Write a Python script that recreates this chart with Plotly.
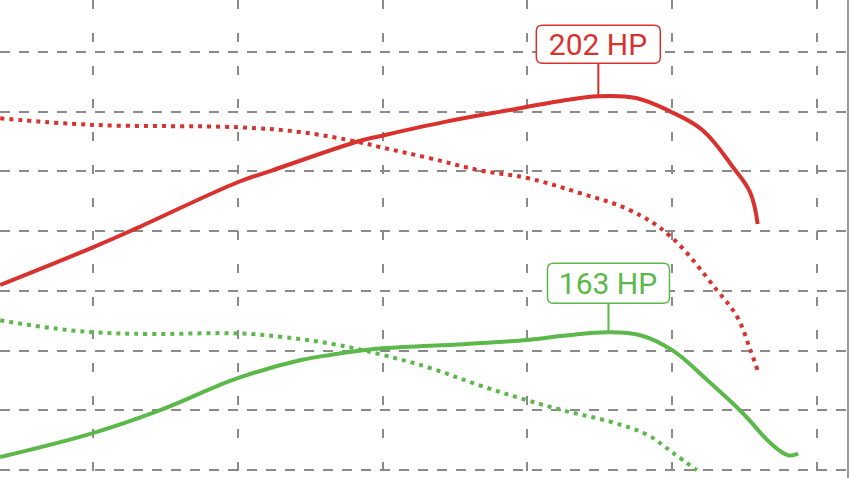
import plotly.graph_objects as go

# dyno curves (rpm / hp scale)
red_power_rpm = [1360, 2000, 2320, 3000, 3240, 3840, 3980, 4430, 4880, 5230, 5490, 5750, 5990, 6210, 6420, 6540, 6590]
red_power_hp = [171.0, 177.3, 180.7, 188.2, 190.2, 195.1, 195.9, 198.3, 200.3, 201.8, 202.6, 202.3, 200.0, 196.9, 190.7, 186.4, 181.2]

red_torque_rpm = [1360, 2000, 3000, 3430, 3840, 3980, 4330, 4670, 5000, 5360, 5710, 5985, 6310, 6450, 6540, 6590]
red_torque_val = [198.9, 197.8, 197.4, 196.6, 194.9, 194.1, 192.2, 190.2, 188.9, 186.4, 183.5, 179.2, 170.1, 165.6, 160.1, 156.7]

green_power_rpm = [1360, 2000, 2460, 3000, 3430, 3640, 4000, 4560, 5000, 5250, 5560, 5780, 6000, 6260, 6490, 6680, 6800, 6870]
green_power_hp = [142.2, 146.2, 150.0, 155.4, 158.4, 159.3, 160.4, 161.1, 161.8, 162.5, 163.1, 162.6, 160.1, 154.7, 149.5, 144.5, 142.5, 142.8]

green_torque_rpm = [1360, 1680, 2000, 2390, 3000, 3310, 3660, 4000, 4330, 4670, 5000, 5250, 5590, 5830, 6000, 6170]
green_torque_val = [165.1, 163.9, 163.1, 162.8, 162.9, 162.3, 161.1, 159.3, 157.1, 154.2, 151.7, 150.0, 148.0, 145.9, 143.0, 140.0]

peak_labels = ["202 HP", "163 HP"]
peak_rpm = [5490, 5560]
peak_hp = [202.6, 163.1]

RED = '#d8312e'
GREEN = '#5cb84b'
GRID = '#8a8a8a'

fig = go.Figure()

def add_curve(x, y, color, dotted=False):
    fig.add_trace(go.Scatter(
        x=x, y=y, mode='lines',
        line=dict(color=color, width=4, shape='spline', smoothing=1.1,
                  dash='4px,5px' if dotted else 'solid'),
        showlegend=False, hoverinfo='skip'
    ))

add_curve(red_torque_rpm, red_torque_val, RED, dotted=True)
add_curve(green_torque_rpm, green_torque_val, GREEN, dotted=True)
add_curve(red_power_rpm, red_power_hp, RED)
add_curve(green_power_rpm, green_power_hp, GREEN)

# peak labels: rounded box + stem
box_sizes = [(124, 38, 33), (122, 40, 29)]  # width, height, gap above point
for text, px, py, color, (bw, bh, gap) in zip(peak_labels, peak_rpm, peak_hp, [RED, GREEN], box_sizes):
    x0, x1 = -bw / 2, bw / 2
    y0, y1 = gap, gap + bh
    r = 6
    path = (f"M {x0 + r},{y0} L {x1 - r},{y0} Q {x1},{y0} {x1},{y0 + r} "
            f"L {x1},{y1 - r} Q {x1},{y1} {x1 - r},{y1} L {x0 + r},{y1} "
            f"Q {x0},{y1} {x0},{y1 - r} L {x0},{y0 + r} Q {x0},{y0} {x0 + r},{y0} Z")
    fig.add_shape(type='path', path=path, xsizemode='pixel', ysizemode='pixel',
                  xanchor=px, yanchor=py, xref='x', yref='y',
                  line=dict(color=color, width=1.5), fillcolor='white', layer='above')
    fig.add_annotation(
        x=px, y=py, text=text, showarrow=True, arrowhead=0, arrowwidth=2,
        arrowcolor=color, ax=0, ay=-(gap + bh / 2), standoff=0,
        width=bw, height=bh, borderpad=0, bgcolor='rgba(0,0,0,0)',
        font=dict(family='Roboto', size=30, color=color)
    )

fig.update_layout(
    width=849, height=478,
    margin=dict(l=0, r=2, t=0, b=0),
    paper_bgcolor='white', plot_bgcolor='white',
    xaxis=dict(range=[1358.6, 7207], dtick=1000, tick0=0, showgrid=True, gridcolor=GRID,
               gridwidth=1.8, griddash='9px,24px', showticklabels=False, ticks='',
               zeroline=False, showline=False),
    yaxis=dict(range=[138.7, 218.7], dtick=10, tick0=0, showgrid=True, gridcolor=GRID,
               gridwidth=1.8, griddash='10px,9px', showticklabels=False, ticks='',
               zeroline=False, showline=True, side='right', linecolor='#9a9a9a', linewidth=2),
)

# drop the default page margin so the figure fills the window exactly
fig.write_html("out.html", config={'displayModeBar': False},
               post_script="document.body.style.margin='0';document.body.style.overflow='hidden';")
